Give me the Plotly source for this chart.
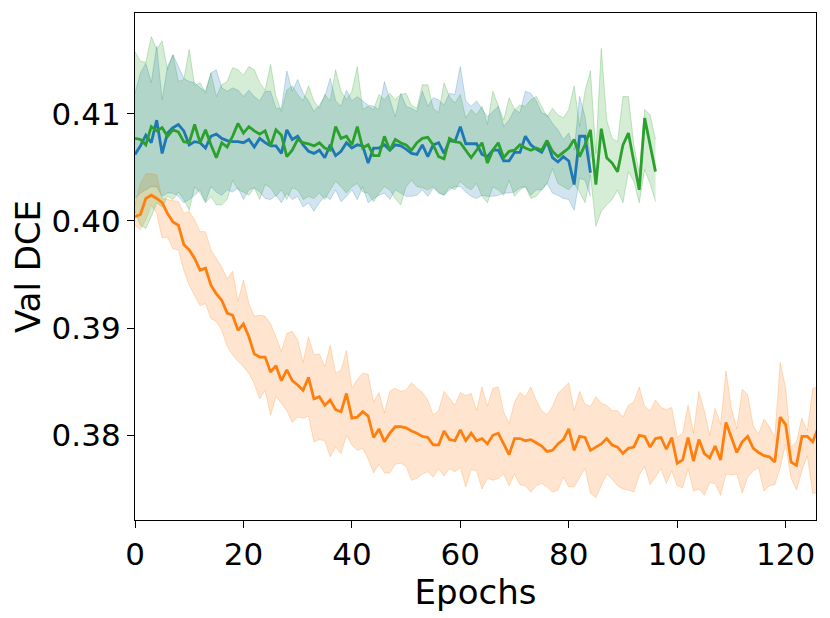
import plotly.graph_objects as go

# ---------------- data ----------------
orange_mean = [0.4004, 0.4006, 0.4021, 0.4024, 0.4021, 0.4017, 0.4007, 0.3999, 0.3996, 0.3978,
               0.3973, 0.3965, 0.3954, 0.3956, 0.3940, 0.3932, 0.3926, 0.3914, 0.3912, 0.3898,
               0.3904, 0.3892, 0.3876, 0.3873, 0.3873, 0.3859, 0.3865, 0.3851, 0.3861, 0.3851,
               0.3847, 0.3842, 0.3854, 0.3834, 0.3836, 0.3828, 0.3833, 0.3824, 0.3822, 0.3839,
               0.3816, 0.3817, 0.3822, 0.3818, 0.3798, 0.3806, 0.3794, 0.3802, 0.3808, 0.3808,
               0.3807, 0.3804, 0.3802, 0.3799, 0.3798, 0.3791, 0.3791, 0.3804, 0.3796, 0.3795,
               0.3805, 0.3795, 0.3802, 0.3795, 0.3797, 0.3792, 0.3800, 0.3802, 0.3792, 0.3782,
               0.3797, 0.3797, 0.3795, 0.3796, 0.3793, 0.3790, 0.3785, 0.3786, 0.3792, 0.3796,
               0.3806, 0.3786, 0.3799, 0.3798, 0.3786, 0.3789, 0.3792, 0.3797, 0.3791, 0.3789,
               0.3783, 0.3788, 0.3789, 0.3800, 0.3799, 0.3789, 0.3797, 0.3798, 0.3787, 0.3798,
               0.3774, 0.3777, 0.3798, 0.3776, 0.3796, 0.3783, 0.3779, 0.3790, 0.3777, 0.3812,
               0.3798, 0.3784, 0.3794, 0.3799, 0.3788, 0.3784, 0.3781, 0.3780, 0.3775, 0.3817,
               0.3810, 0.3775, 0.3772, 0.3799, 0.3799, 0.3794, 0.3807]
orange_upper = [0.4015, 0.4035, 0.4044, 0.4044, 0.4043, 0.4021, 0.4020, 0.4019, 0.4018, 0.4007,
                0.4009, 0.4001, 0.3990, 0.3990, 0.3973, 0.3965, 0.3957, 0.3946, 0.3953, 0.3925,
                0.3945, 0.3923, 0.3911, 0.3912, 0.3911, 0.3904, 0.3892, 0.3878, 0.3895, 0.3897,
                0.3889, 0.3868, 0.3892, 0.3875, 0.3876, 0.3864, 0.3884, 0.3858, 0.3861, 0.3879,
                0.3844, 0.3852, 0.3858, 0.3857, 0.3831, 0.3840, 0.3821, 0.3841, 0.3844, 0.3841,
                0.3842, 0.3849, 0.3844, 0.3840, 0.3833, 0.3819, 0.3823, 0.3841, 0.3834, 0.3828,
                0.3840, 0.3837, 0.3839, 0.3823, 0.3845, 0.3827, 0.3844, 0.3845, 0.3822, 0.3811,
                0.3831, 0.3840, 0.3836, 0.3845, 0.3833, 0.3823, 0.3819, 0.3827, 0.3839, 0.3844,
                0.3849, 0.3823, 0.3841, 0.3829, 0.3827, 0.3836, 0.3830, 0.3828, 0.3823, 0.3823,
                0.3817, 0.3828, 0.3831, 0.3845, 0.3827, 0.3823, 0.3833, 0.3826, 0.3824, 0.3826,
                0.3798, 0.3802, 0.3828, 0.3802, 0.3841, 0.3823, 0.3800, 0.3825, 0.3810, 0.3860,
                0.3825, 0.3806, 0.3843, 0.3838, 0.3809, 0.3801, 0.3815, 0.3808, 0.3799, 0.3868,
                0.3844, 0.3789, 0.3794, 0.3816, 0.3804, 0.3844, 0.3845]
orange_lower = [0.3996, 0.3992, 0.4001, 0.4015, 0.4007, 0.3984, 0.3985, 0.3974, 0.3973, 0.3954,
                0.3940, 0.3931, 0.3921, 0.3923, 0.3909, 0.3906, 0.3898, 0.3883, 0.3875, 0.3869,
                0.3864, 0.3858, 0.3848, 0.3834, 0.3842, 0.3819, 0.3836, 0.3830, 0.3823, 0.3812,
                0.3817, 0.3816, 0.3818, 0.3794, 0.3796, 0.3795, 0.3780, 0.3789, 0.3783, 0.3800,
                0.3791, 0.3786, 0.3788, 0.3778, 0.3765, 0.3773, 0.3765, 0.3765, 0.3773, 0.3774,
                0.3771, 0.3758, 0.3760, 0.3764, 0.3766, 0.3761, 0.3769, 0.3762, 0.3769, 0.3766,
                0.3770, 0.3752, 0.3768, 0.3767, 0.3750, 0.3760, 0.3758, 0.3760, 0.3764, 0.3753,
                0.3764, 0.3754, 0.3753, 0.3747, 0.3753, 0.3755, 0.3752, 0.3747, 0.3749, 0.3761,
                0.3752, 0.3752, 0.3761, 0.3769, 0.3746, 0.3742, 0.3753, 0.3764, 0.3759, 0.3753,
                0.3750, 0.3749, 0.3747, 0.3763, 0.3771, 0.3754, 0.3761, 0.3769, 0.3755, 0.3767,
                0.3753, 0.3751, 0.3769, 0.3748, 0.3750, 0.3744, 0.3756, 0.3755, 0.3744, 0.3764,
                0.3763, 0.3764, 0.3746, 0.3761, 0.3767, 0.3770, 0.3748, 0.3753, 0.3754, 0.3770,
                0.3792, 0.3760, 0.3749, 0.3767, 0.3781, 0.3746, 0.3746]

blue_mean = [0.4062, 0.4070, 0.4080, 0.4073, 0.4094, 0.4063, 0.4082, 0.4087, 0.4090, 0.4084,
             0.4071, 0.4074, 0.4073, 0.4068, 0.4079, 0.4081, 0.4077, 0.4075, 0.4074, 0.4074,
             0.4073, 0.4076, 0.4069, 0.4077, 0.4073, 0.4070, 0.4070, 0.4063, 0.4085, 0.4076,
             0.4079, 0.4071, 0.4065, 0.4063, 0.4066, 0.4059, 0.4071, 0.4061, 0.4065, 0.4073,
             0.4068, 0.4071, 0.4070, 0.4054, 0.4068, 0.4068, 0.4071, 0.4066, 0.4071, 0.4070,
             0.4067, 0.4063, 0.4062, 0.4071, 0.4060, 0.4071, 0.4073, 0.4063, 0.4075, 0.4074,
             0.4088, 0.4072, 0.4072, 0.4072, 0.4062, 0.4060, 0.4066, 0.4066, 0.4056, 0.4056,
             0.4064, 0.4064, 0.4079, 0.4071, 0.4067, 0.4064, 0.4074, 0.4059, 0.4055, 0.4060,
             0.4056, 0.4034, 0.4079, 0.4079, 0.4045]
blue_upper = [0.4119, 0.4138, 0.4147, 0.4129, 0.4163, 0.4113, 0.4144, 0.4155, 0.4144, 0.4133,
              0.4130, 0.4129, 0.4124, 0.4121, 0.4138, 0.4141, 0.4124, 0.4121, 0.4124, 0.4122,
              0.4116, 0.4122, 0.4116, 0.4112, 0.4121, 0.4121, 0.4105, 0.4105, 0.4140, 0.4121,
              0.4132, 0.4119, 0.4112, 0.4102, 0.4108, 0.4116, 0.4133, 0.4112, 0.4107, 0.4122,
              0.4112, 0.4116, 0.4112, 0.4108, 0.4107, 0.4104, 0.4130, 0.4113, 0.4097, 0.4119,
              0.4107, 0.4105, 0.4102, 0.4121, 0.4107, 0.4115, 0.4113, 0.4108, 0.4119, 0.4118,
              0.4144, 0.4112, 0.4107, 0.4112, 0.4104, 0.4097, 0.4102, 0.4107, 0.4088, 0.4094,
              0.4104, 0.4101, 0.4121, 0.4119, 0.4112, 0.4101, 0.4099, 0.4091, 0.4085, 0.4076,
              0.4082, 0.4066, 0.4116, 0.4097, 0.4060]
blue_lower = [0.4021, 0.4026, 0.4029, 0.4032, 0.4032, 0.4023, 0.4026, 0.4026, 0.4023, 0.4017,
              0.4020, 0.4024, 0.4029, 0.4018, 0.4032, 0.4027, 0.4024, 0.4029, 0.4027, 0.4031,
              0.4020, 0.4029, 0.4031, 0.4027, 0.4021, 0.4020, 0.4024, 0.4017, 0.4026, 0.4020,
              0.4023, 0.4013, 0.4017, 0.4009, 0.4017, 0.4023, 0.4020, 0.4029, 0.4018, 0.4023,
              0.4029, 0.4020, 0.4032, 0.4017, 0.4021, 0.4024, 0.4026, 0.4020, 0.4029, 0.4026,
              0.4023, 0.4023, 0.4024, 0.4029, 0.4023, 0.4031, 0.4026, 0.4024, 0.4029, 0.4032,
              0.4032, 0.4027, 0.4023, 0.4021, 0.4024, 0.4023, 0.4023, 0.4024, 0.4026, 0.4026,
              0.4027, 0.4031, 0.4032, 0.4024, 0.4029, 0.4029, 0.4035, 0.4026, 0.4024, 0.4021,
              0.4020, 0.4010, 0.4040, 0.4038, 0.4023]

green_mean = [0.4077, 0.4076, 0.4071, 0.4088, 0.4084, 0.4087, 0.4079, 0.4085, 0.4083, 0.4074,
              0.4073, 0.4090, 0.4073, 0.4085, 0.4071, 0.4059, 0.4073, 0.4069, 0.4079, 0.4091,
              0.4082, 0.4088, 0.4084, 0.4081, 0.4084, 0.4070, 0.4085, 0.4080, 0.4060, 0.4066,
              0.4076, 0.4073, 0.4072, 0.4070, 0.4073, 0.4068, 0.4066, 0.4088, 0.4077, 0.4079,
              0.4071, 0.4088, 0.4068, 0.4071, 0.4061, 0.4061, 0.4079, 0.4066, 0.4076, 0.4073,
              0.4071, 0.4066, 0.4073, 0.4077, 0.4078, 0.4071, 0.4060, 0.4058, 0.4077, 0.4074,
              0.4073, 0.4066, 0.4059, 0.4066, 0.4073, 0.4054, 0.4066, 0.4073, 0.4059, 0.4065,
              0.4066, 0.4071, 0.4068, 0.4066, 0.4068, 0.4066, 0.4075, 0.4065, 0.4060, 0.4064,
              0.4068, 0.4076, 0.4060, 0.4071, 0.4085, 0.4034, 0.4086, 0.4059, 0.4054, 0.4046,
              0.4071, 0.4082, 0.4056, 0.4029, 0.4096, 0.4070, 0.4046]
green_upper = [0.4158, 0.4149, 0.4148, 0.4172, 0.4160, 0.4168, 0.4141, 0.4155, 0.4130, 0.4132,
               0.4160, 0.4126, 0.4129, 0.4119, 0.4138, 0.4116, 0.4127, 0.4130, 0.4143, 0.4141,
               0.4136, 0.4144, 0.4141, 0.4129, 0.4122, 0.4146, 0.4116, 0.4102, 0.4122, 0.4126,
               0.4118, 0.4112, 0.4126, 0.4112, 0.4105, 0.4118, 0.4112, 0.4141, 0.4121, 0.4113,
               0.4121, 0.4144, 0.4104, 0.4107, 0.4104, 0.4118, 0.4113, 0.4119, 0.4113, 0.4118,
               0.4119, 0.4108, 0.4105, 0.4127, 0.4127, 0.4105, 0.4101, 0.4129, 0.4116, 0.4110,
               0.4118, 0.4096, 0.4104, 0.4099, 0.4107, 0.4090, 0.4121, 0.4108, 0.4094, 0.4115,
               0.4104, 0.4108, 0.4107, 0.4113, 0.4116, 0.4107, 0.4097, 0.4105, 0.4099, 0.4096,
               0.4104, 0.4126, 0.4088, 0.4121, 0.4140, 0.4063, 0.4161, 0.4094, 0.4077, 0.4074,
               0.4116, 0.4116, 0.4071, 0.4045, 0.4104, 0.4099, 0.4076]
green_lower = [0.4009, 0.3996, 0.3993, 0.4004, 0.4017, 0.4013, 0.4023, 0.4020, 0.4027, 0.4020,
               0.4010, 0.4032, 0.4026, 0.4017, 0.4023, 0.4015, 0.4015, 0.4020, 0.4038, 0.4029,
               0.4027, 0.4024, 0.4031, 0.4020, 0.4034, 0.4031, 0.4023, 0.4029, 0.4020, 0.4031,
               0.4029, 0.4020, 0.4023, 0.4021, 0.4026, 0.4020, 0.4029, 0.4037, 0.4032, 0.4026,
               0.4032, 0.4035, 0.4027, 0.4026, 0.4018, 0.4026, 0.4032, 0.4029, 0.4021, 0.4015,
               0.4032, 0.4038, 0.4032, 0.4031, 0.4029, 0.4032, 0.4027, 0.4024, 0.4032, 0.4029,
               0.4037, 0.4032, 0.4029, 0.4035, 0.4023, 0.4017, 0.4032, 0.4029, 0.4024, 0.4038,
               0.4023, 0.4029, 0.4032, 0.4021, 0.4023, 0.4029, 0.4035, 0.4049, 0.4035, 0.4032,
               0.4029, 0.4035, 0.4027, 0.4017, 0.4043, 0.3995, 0.4009, 0.4015, 0.4020, 0.4029,
               0.4017, 0.4046, 0.4037, 0.4017, 0.4048, 0.4035, 0.4018]

x_ticks = [0, 20, 40, 60, 80, 100, 120]
y_ticks = [0.38, 0.39, 0.40, 0.41]
x_title = "Epochs"
y_title = "Val DCE"

series = [
    (blue_mean, blue_upper, blue_lower, "31,119,180"),
    (orange_mean, orange_upper, orange_lower, "255,127,14"),
    (green_mean, green_upper, green_lower, "44,160,44"),
]

fig = go.Figure()
for mean, up, lo, rgb in series:
    ep = list(range(len(mean)))
    fig.add_trace(go.Scatter(x=ep, y=up, mode="lines",
                             line=dict(color=f"rgba({rgb},0.25)", width=1),
                             hoverinfo="skip", showlegend=False))
    fig.add_trace(go.Scatter(x=ep, y=lo, mode="lines", fill="tonexty",
                             fillcolor=f"rgba({rgb},0.2)",
                             line=dict(color=f"rgba({rgb},0.25)", width=1),
                             hoverinfo="skip", showlegend=False))
for mean, up, lo, rgb in series:
    ep = list(range(len(mean)))
    fig.add_trace(go.Scatter(x=ep, y=mean, mode="lines",
                             line=dict(color=f"rgb({rgb})", width=2.8),
                             showlegend=False))

axis_common = dict(showline=True, linecolor="black", linewidth=1.3, mirror=True,
                   ticks="outside", ticklen=7, tickwidth=1.3, tickcolor="black",
                   showgrid=False, zeroline=False,
                   tickfont=dict(family="DejaVu Sans", size=31, color="black"))

fig.update_layout(
    width=822, height=610,
    margin=dict(l=127, r=14, t=5, b=98),
    paper_bgcolor="white", plot_bgcolor="white",
    xaxis=dict(range=[0, 125.6], tickvals=x_ticks,
               title=dict(text=x_title, font=dict(family="DejaVu Sans", size=34, color="black"), standoff=6),
               **axis_common),
    yaxis=dict(range=[0.3721, 0.4194], tickvals=y_ticks, tickformat=".2f",
               title=dict(text=y_title, font=dict(family="DejaVu Sans", size=34, color="black"), standoff=8),
               **axis_common),
)

fig.write_html("out.html")
